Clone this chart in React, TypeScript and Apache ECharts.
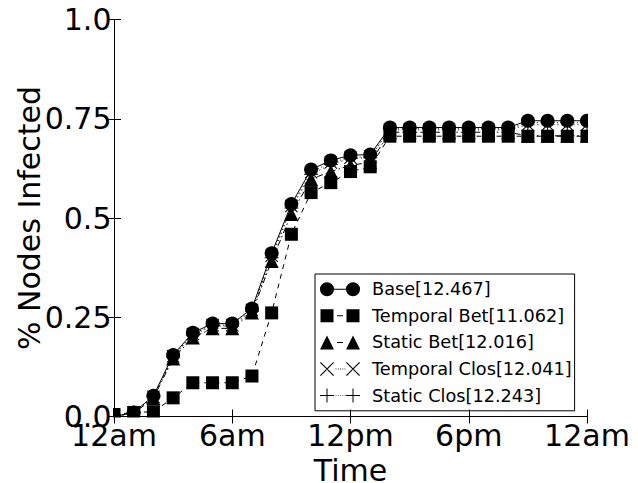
import React, { useEffect, useRef } from 'react';
import * as echarts from 'echarts';

// hours of the day (0 = 12am ... 24 = next 12am)
const hours = [0, 1, 2, 3, 4, 5, 6, 7, 8, 9, 10, 11, 12, 13, 14, 15, 16, 17, 18, 19, 20, 21, 22, 23, 24];

const baseVals = [0.0, 0.01, 0.052, 0.155, 0.211, 0.234, 0.234, 0.272, 0.411, 0.535, 0.622, 0.645, 0.658, 0.66, 0.728, 0.728, 0.728, 0.728, 0.728, 0.728, 0.728, 0.745, 0.745, 0.745, 0.745];
const temporalBetVals = [0.005, 0.01, 0.012, 0.047, 0.085, 0.085, 0.085, 0.102, 0.261, 0.459, 0.564, 0.589, 0.617, 0.629, 0.706, 0.706, 0.706, 0.706, 0.706, 0.706, 0.706, 0.706, 0.706, 0.706, 0.706];
const staticBetVals = [0.0, 0.008, 0.046, 0.146, 0.199, 0.222, 0.222, 0.262, 0.392, 0.51, 0.598, 0.617, 0.633, 0.64, 0.716, 0.716, 0.716, 0.716, 0.716, 0.716, 0.716, 0.707, 0.707, 0.707, 0.707];
const temporalClosVals = [0.0, 0.01, 0.05, 0.152, 0.208, 0.23, 0.23, 0.268, 0.405, 0.53, 0.615, 0.64, 0.652, 0.655, 0.722, 0.722, 0.722, 0.722, 0.722, 0.722, 0.722, 0.735, 0.735, 0.735, 0.735];
const staticClosVals = [0.0, 0.01, 0.05, 0.15, 0.205, 0.228, 0.228, 0.265, 0.4, 0.525, 0.61, 0.635, 0.65, 0.652, 0.725, 0.725, 0.725, 0.725, 0.725, 0.725, 0.725, 0.74, 0.74, 0.74, 0.74];

const seriesNames = ['Base[12.467]', 'Temporal Bet[11.062]', 'Static Bet[12.016]', 'Temporal Clos[12.041]', 'Static Clos[12.243]'];
const xTickLabels = ['12am', '6am', '12pm', '6pm', '12am'];
const yTickLabels = ['0.0', '0.25', '0.5', '0.75', '1.0'];

const FONT = 'DejaVu Sans';

const X_PATH = 'path://M0 0.8L0.8 0L14 13.2L13.2 14Z M0 13.2L13.2 0L14 0.8L0.8 14Z';
const PLUS_PATH = 'path://M6.5 0h1v14h-1Z M0 6.5h14v1h-14Z';

const dots = 'M15.6 6.6h0.8v0.8h-0.8Z M17.9 6.6h0.8v0.8h-0.8Z M20.2 6.6h0.8v0.8h-0.8Z M22.5 6.6h0.8v0.8h-0.8Z M24.6 6.6h0.8v0.8h-0.8Z';
const LEGEND_ICONS = [
  'path://M0 7a7 7 0 1 0 14 0a7 7 0 1 0 -14 0Z M26 7a7 7 0 1 0 14 0a7 7 0 1 0 -14 0Z M14 6.5h12v1h-12Z',
  'path://M0.5 0.5h13v13h-13Z M26.5 0.5h13v13h-13Z M17 6.5h6v1h-6Z M0 7h0.01v0.01h-0.01Z M39.99 7h0.01v0.01h-0.01Z M20 0h0.01v0.01h-0.01Z M20 13.99h0.01v0.01h-0.01Z',
  'path://M7 0L14 14H0Z M33 0L40 14H26Z M17 6.5h6v1h-6Z',
  'path://M0 0.8L0.8 0L14 13.2L13.2 14Z M0 13.2L13.2 0L14 0.8L0.8 14Z M26 0.8L26.8 0L40 13.2L39.2 14Z M26 13.2L39.2 0L40 0.8L26.8 14Z ' + dots,
  'path://M6.5 0h1v14h-1Z M0 6.5h14v1h-14Z M32.5 0h1v14h-1Z M26 6.5h14v1h-14Z ' + dots,
];

const seriesDefs = [
  { values: baseVals, symbol: 'circle', size: 14, dash: 'solid' as any },
  { values: temporalBetVals, symbol: 'rect', size: 13, dash: [5, 5] },
  { values: staticBetVals, symbol: 'triangle', size: 14, dash: [6, 3, 1.5, 3] },
  { values: temporalClosVals, symbol: X_PATH, size: 13, dash: [1, 3] },
  { values: staticClosVals, symbol: PLUS_PATH, size: 14, dash: [1, 3] },
];

export default function App() {
  const ref = useRef<HTMLDivElement>(null);
  useEffect(() => {
    if (!ref.current) return;
    const chart = echarts.init(ref.current, null, { renderer: 'svg' });
    const axisCommon = {
      type: 'value' as const,
      z: 10,
      axisLine: { show: true, lineStyle: { color: '#000', width: 1 } },
      axisTick: { show: true, inside: true, length: 7, lineStyle: { color: '#000', width: 1 } },
      splitLine: { show: false },
    };
    chart.setOption({
      animation: false,
      backgroundColor: '#fff',
      textStyle: { fontFamily: FONT },
      grid: { left: 114, top: 19.5, width: 473, height: 397, show: false, containLabel: false, outerBoundsMode: 'none' },
      xAxis: [
        {
          ...axisCommon,
          position: 'bottom',
          min: 0,
          max: 24,
          interval: 6,
          axisLabel: {
            color: '#000',
            fontSize: 30,
            fontFamily: FONT,
            margin: 4,
            formatter: (v: number) => xTickLabels[Math.round(v / 6)] ?? '',
          },
          name: 'Time',
          nameLocation: 'middle',
          nameGap: 41.5,
          nameMoveOverlap: false,
          nameTextStyle: { color: '#000', fontSize: 30, lineHeight: 24, fontFamily: FONT },
        },
        {
          ...axisCommon,
          position: 'top',
          min: 0,
          max: 24,
          interval: 6,
          axisLabel: { show: false },
        },
      ],
      yAxis: [
        {
          ...axisCommon,
          position: 'left',
          min: 0,
          max: 1,
          interval: 0.25,
          axisLabel: {
            color: '#000',
            fontSize: 30,
            fontFamily: FONT,
            margin: 2.5,
            formatter: (v: number) => yTickLabels[Math.round(v / 0.25)] ?? '',
          },
          name: '% Nodes Infected',
          nameLocation: 'middle',
          nameGap: 70,
          nameMoveOverlap: false,
          nameTextStyle: { color: '#000', fontSize: 30, lineHeight: 30, fontFamily: FONT },
        },
        {
          ...axisCommon,
          position: 'right',
          min: 0,
          max: 1,
          interval: 0.25,
          axisLabel: { show: false },
        },
      ],
      legend: {
        show: true,
        orient: 'vertical',
        left: 315,
        top: 274,
        z: 6,
        padding: [6.2, 3, 6.2, 5],
        itemGap: 8.6,
        itemWidth: 40,
        itemHeight: 14,
        selectedMode: false,
        backgroundColor: '#fff',
        borderColor: '#000',
        borderWidth: 1,
        borderRadius: 0,
        itemStyle: { color: '#000', borderWidth: 0 },
        textStyle: { color: '#000', fontSize: 17.7, fontFamily: FONT, padding: [0, 0, 0, 7] },
        data: seriesNames.map((n, i) => ({ name: n, icon: LEGEND_ICONS[i] })),
      },
      graphic: [
        { type: 'rect', z: 3, shape: { x: 0, y: 0, width: 113, height: 483 }, style: { fill: '#fff' }, silent: true },
        { type: 'rect', z: 3, shape: { x: 588, y: 0, width: 50, height: 483 }, style: { fill: '#fff' }, silent: true },
        { type: 'rect', z: 3, shape: { x: 0, y: 417.5, width: 638, height: 66 }, style: { fill: '#fff' }, silent: true },
      ],
      series: seriesDefs.map((s, i) => ({
        name: seriesNames[i],
        type: 'line',
        z: 2 + i * 0.01,
        data: hours.map((h, k) => [h, s.values[k]]),
        symbol: s.symbol,
        symbolSize: s.size,
        showSymbol: true,
        showAllSymbol: true,
        clip: true,
        color: '#000',
        itemStyle: { color: '#000', borderWidth: 0 },
        lineStyle: { color: '#000', width: 1, type: s.dash },
        emphasis: { disabled: true },
      })),
    });
    return () => chart.dispose();
  }, []);
  return (
    <div
      ref={ref}
      style={{ position: 'fixed', left: 0, top: 0, width: 638, height: 483, background: '#fff' }}
    />
  );
}
